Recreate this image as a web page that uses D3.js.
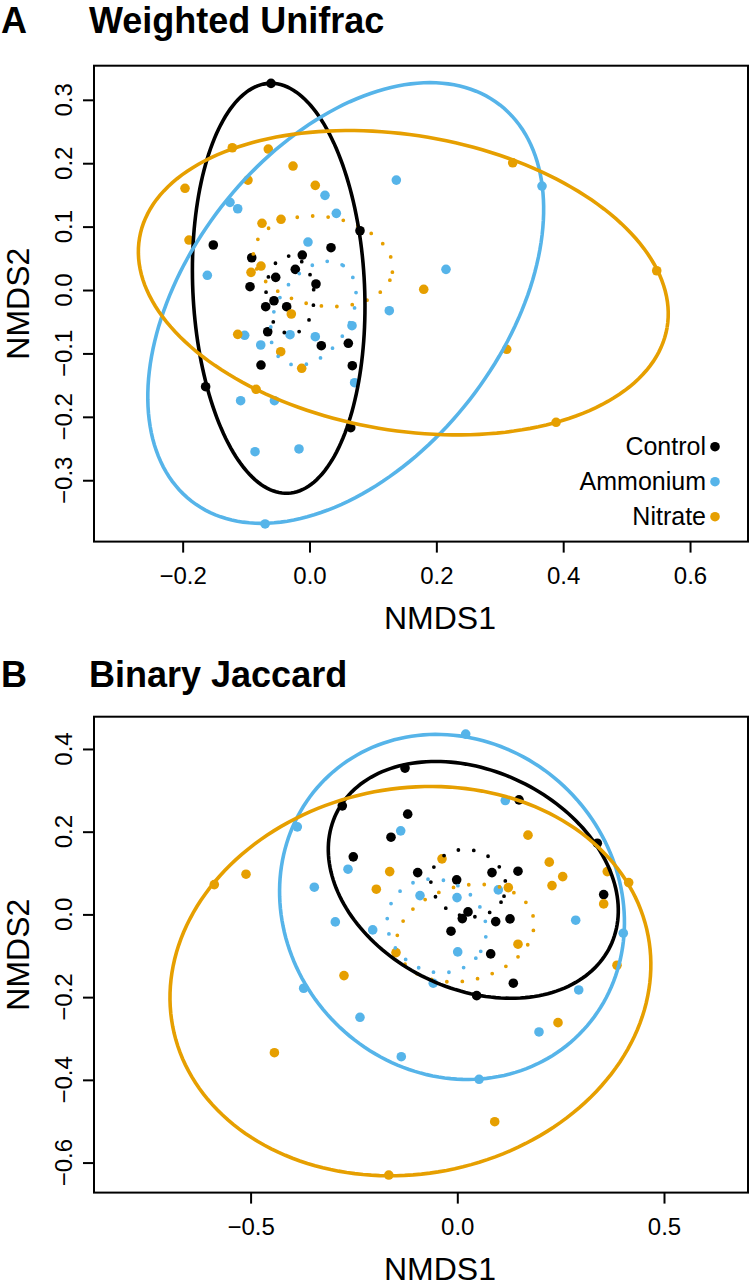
<!DOCTYPE html>
<html>
<head>
<meta charset="utf-8">
<title>NMDS ordination</title>
<script src="https://cdn.jsdelivr.net/npm/d3@7"></script>
<style>
body{ margin:0; background:#ffffff; }
svg text{ font-family: "Liberation Sans", Arial, Helvetica, sans-serif; fill:#000; }
</style>
</head>
<body>
<div id="chart"></div>
<script>
var groups = ["Control", "Ammonium", "Nitrate"];
var colors = ["#000000", "#56B4E9", "#E69F00"];

// ---- panel A : weighted unifrac (NMDS1, NMDS2)
var controlA = [[-0.0607,0.3259],[0.0796,0.0935],[-0.1517,0.0710],[-0.0911,0.0509],[-0.0114,0.0552],[0.0339,0.0667],[-0.0224,0.0326],[-0.0533,0.0200],[0.0102,0.0095],[-0.0938,0.0052],[-0.0560,-0.0169],[-0.0691,-0.0263],[-0.0360,-0.0263],[-0.0659,-0.0658],[0.0186,-0.0878],[0.0612,-0.0840],[-0.0765,-0.1183],[0.0675,-0.1194],[-0.1638,-0.1525],[0.0650,-0.2171]];
var ammoniumA = [[0.1369,0.1734],[0.0244,0.1493],[-0.1254,0.1383],[-0.1132,0.1282],[0.0423,0.1209],[-0.0024,0.0757],[-0.1611,0.0232],[0.1258,-0.0326],[0.0670,-0.0563],[-0.1022,-0.0714],[-0.0307,-0.0705],[0.0091,-0.0736],[-0.0769,-0.0867],[0.3666,0.1640],[0.2152,0.0326],[0.0711,-0.1462],[-0.1086,-0.1746],[-0.0553,-0.1746],[-0.0859,-0.2550],[-0.0166,-0.2507],[-0.0700,-0.3690]];
var nitrateA = [[-0.1217,0.2244],[-0.0650,0.2223],[-0.1963,0.1604],[-0.0260,0.1955],[-0.0970,0.1734],[0.0091,0.1651],[-0.1900,0.0788],[-0.0749,0.1052],[-0.0449,0.1115],[-0.0922,0.0279],[-0.0765,0.0378],[-0.0287,-0.0378],[-0.1132,-0.0699],[-0.0454,-0.0973],[-0.0123,-0.1235],[0.3204,0.2007],[0.1801,0.0011],[0.5475,0.0304],[0.3109,-0.0935],[-0.0842,-0.1566],[0.3888,-0.2086]];
// ellipses: [centre x, centre y, semi axis a, semi axis b, angle deg]
var hullA = [[-0.0486,0.0027,0.3236,0.1354,92.6],[0.0571,-0.0205,0.3959,0.2479,52.1],[0.1479,0.0115,0.4219,0.2327,-9.64]];
var seA = [[-0.0307,-0.0079,0.0615,0.0378,92],[0.0060,-0.0367,0.0889,0.0580,59.3],[0.0213,0.0453,0.1107,0.0702,-8.9]];
var xTicksA = [-0.2, 0, 0.2, 0.4, 0.6];
var yTicksA = [-0.3, -0.2, -0.1, 0, 0.1, 0.2, 0.3];

// ---- panel B : binary jaccard
var controlB = [[-0.1265,0.3537],[-0.2782,0.2625],[-0.1200,0.2424],[-0.1604,0.1867],[-0.2516,0.1391],[-0.0958,0.1011],[0.1493,0.2770],[0.3387,0.1722],[-0.0015,0.0835],[0.0839,0.1011],[0.1468,0.1045],[0.3541,0.0479],[0.0259,0.0060],[0.0121,-0.0102],[0.0929,-0.0174],[0.1275,-0.0109],[-0.0152,-0.0406],[0.0808,-0.0955],[0.1355,-0.1664],[0.0469,-0.1964]];
var ammoniumB = [[-0.1369,0.2020],[-0.3870,0.2117],[-0.2644,0.1093],[-0.3459,0.0658],[-0.2951,-0.0181],[-0.2046,-0.0375],[-0.3716,-0.1785],[-0.2354,-0.2487],[-0.0902,0.0455],[0.0203,0.4359],[0.1161,0.2753],[0.0992,0.0593],[-0.0007,0.0406],[0.2864,-0.0140],[0.4015,-0.0455],[0.0010,-0.0907],[-0.0581,-0.1664],[0.2937,-0.1826],[0.1976,-0.2842],[-0.1355,-0.3440],[0.0527,-0.3986]];
var nitrateB = [[-0.5111,0.0972],[-0.5878,0.0721],[-0.1635,0.1035],[-0.1959,0.0610],[-0.1483,-0.0924],[-0.2741,-0.1480],[0.1710,0.1916],[-0.0370,0.1343],[0.2225,0.1263],[0.2550,0.0914],[0.2291,0.0697],[0.3628,0.1035],[0.4146,0.0769],[0.1234,0.0648],[0.3541,0.0254],[0.1468,-0.0721],[0.3863,-0.1229],[0.2436,-0.2617],[-0.4424,-0.3343],[0.0905,-0.5012],[-0.1657,-0.6301]];
var hullB = [[0.0387,0.0835,0.3682,0.2634,-25.8],[-0.0128,0.0181,0.4354,0.3980,-45],[-0.1134,-0.1613,0.5854,0.4659,10.8]];
var seB = [[0.0266,0.0755,0.092,0.080,-20],[-0.0498,-0.0278,0.123,0.110,-30],[0.0194,-0.0452,0.169,0.114,14.2]];
var xTicksB = [-0.5, 0, 0.5];
var yTicksB = [-0.6, -0.4, -0.2, 0, 0.2, 0.4];

var width = 750, height = 1288;
var svg = d3.select("#chart").append("svg")
	.attr("width", width)
	.attr("height", height);

var fmt = d3.format(".1f");

function ellipsePoints(e){
	var th = e[4] * Math.PI / 180;
	return d3.range(0, 361, 2).map(function(deg){
		var t = deg * Math.PI / 180;
		return [e[0] + e[2]*Math.cos(t)*Math.cos(th) - e[3]*Math.sin(t)*Math.sin(th),
			e[1] + e[2]*Math.cos(t)*Math.sin(th) + e[3]*Math.sin(t)*Math.cos(th)];
	});
}

function drawPanel(p){
	var g = svg.append("g");
	var x = d3.scaleLinear().domain(p.xlim).range([p.left, p.right]);
	var y = d3.scaleLinear().domain(p.ylim).range([p.bottom, p.top]);

	g.append("clipPath").attr("id", p.id)
		.append("rect")
		.attr("x", p.left).attr("y", p.top)
		.attr("width", p.right - p.left).attr("height", p.bottom - p.top);

	var plot = g.append("g").attr("clip-path", "url(#" + p.id + ")");
	var line = d3.line()
		.x(function(d){ return x(d[0]); })
		.y(function(d){ return y(d[1]); });

	// points
	p.series.forEach(function(s, i){
		plot.selectAll(".pt" + i)
			.data(s)
			.enter().append("circle")
			.attr("cx", function(d){ return x(d[0]); })
			.attr("cy", function(d){ return y(d[1]); })
			.attr("r", 4.8)
			.attr("fill", colors[i]);
	});

	// standard error ellipses, dotted
	p.se.forEach(function(e, i){
		plot.append("path")
			.attr("d", line(ellipsePoints(e)))
			.attr("fill", "none")
			.attr("stroke", colors[i])
			.attr("stroke-width", 3.8)
			.attr("stroke-linecap", "round")
			.attr("stroke-dasharray", "0,15.5");
	});

	// enclosing ellipses
	p.hull.forEach(function(e, i){
		plot.append("path")
			.attr("d", line(ellipsePoints(e)))
			.attr("fill", "none")
			.attr("stroke", colors[i])
			.attr("stroke-width", 3.6);
	});

	// box
	g.append("rect")
		.attr("x", p.left).attr("y", p.top)
		.attr("width", p.right - p.left).attr("height", p.bottom - p.top)
		.attr("fill", "none").attr("stroke", "#000").attr("stroke-width", 2);

	// x axis
	var xa = g.append("g")
		.attr("transform", "translate(0," + p.bottom + ")")
		.call(d3.axisBottom(x).tickValues(p.xTicks).tickSize(11).tickFormat(fmt));
	xa.select(".domain").remove();
	xa.selectAll("line").attr("stroke", "#000").attr("stroke-width", 2);
	xa.selectAll("text").attr("y", 42.4).attr("dy", null)
		.style("font-size", "24px").attr("fill", "#000");

	// y axis
	var ya = g.append("g")
		.attr("transform", "translate(" + p.left + ",0)")
		.call(d3.axisLeft(y).tickValues(p.yTicks).tickSize(11).tickFormat(""));
	ya.select(".domain").remove();
	ya.selectAll("line").attr("stroke", "#000").attr("stroke-width", 2);
	g.selectAll(".ylab")
		.data(p.yTicks)
		.enter().append("text")
		.attr("transform", function(d){ return "translate(71.5," + y(d) + ") rotate(-90)"; })
		.attr("text-anchor", "middle")
		.style("font-size", "24px")
		.text(fmt);

	// axis titles
	g.append("text")
		.attr("x", p.labelX).attr("y", p.bottom + 87.4)
		.attr("text-anchor", "middle")
		.style("font-size", "32px")
		.text("NMDS1");
	g.append("text")
		.attr("transform", "translate(28.5," + ((p.top + p.bottom) / 2) + ") rotate(-90)")
		.attr("text-anchor", "middle")
		.style("font-size", "32px")
		.text("NMDS2");

	// panel title
	g.append("text")
		.attr("x", 1).attr("y", p.titleY)
		.style("font-size", "36px").style("font-weight", "bold")
		.text(p.letter);
	g.append("text")
		.attr("x", 89).attr("y", p.titleY)
		.style("font-size", "36px").style("font-weight", "bold")
		.text(p.title);

	return {x: x, y: y, g: g};
}

var panelA = drawPanel({
	id: "clipA", letter: "A", title: "Weighted Unifrac", titleY: 33.3,
	left: 94, right: 748, top: 65.7, bottom: 541.6, labelX: 440,
	xlim: [-0.3398, 0.6914], ylim: [-0.3968, 0.3538],
	xTicks: xTicksA, yTicks: yTicksA,
	series: [controlA, ammoniumA, nitrateA], hull: hullA, se: seA
});

drawPanel({
	id: "clipB", letter: "B", title: "Binary Jaccard", titleY: 687,
	left: 94, right: 748, top: 716.7, bottom: 1192.6, labelX: 440,
	xlim: [-0.8788, 0.7032], ylim: [-0.6726, 0.4780],
	xTicks: xTicksB, yTicks: yTicksB,
	series: [controlB, ammoniumB, nitrateB], hull: hullB, se: seB
});

// legend in panel A
var legend = panelA.g.append("g");
groups.forEach(function(name, i){
	var cy = 446.7 + i * 35;
	legend.append("text")
		.attr("x", 706).attr("y", cy + 8.5)
		.attr("text-anchor", "end")
		.style("font-size", "25px")
		.text(name);
	legend.append("circle")
		.attr("cx", 715).attr("cy", cy)
		.attr("r", 4.8)
		.attr("fill", colors[i]);
});
</script>
</body>
</html>
